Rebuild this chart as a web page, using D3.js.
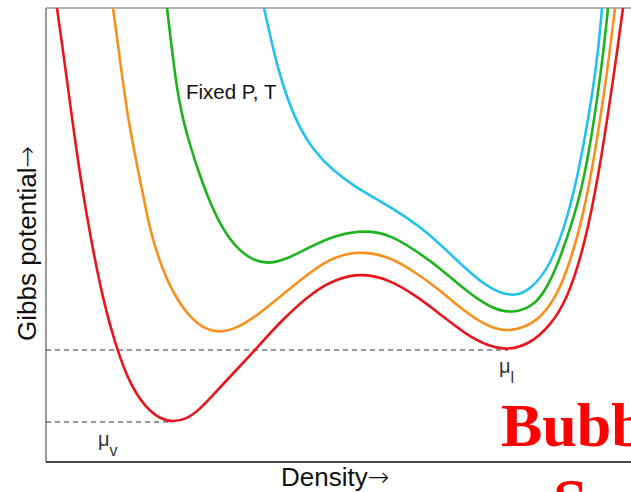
<!DOCTYPE html>
<html>
<head>
<meta charset="utf-8">
<script src="https://cdn.jsdelivr.net/npm/d3@7/dist/d3.min.js"></script>
<style>
  html, body { margin: 0; padding: 0; background: #fff; }
  svg { display: block; }
</style>
</head>
<body>
<script>
// ---- Data (density, Gibbs potential), arbitrary units ----
const redCurve = [
  [2.2,90.8],[3.6,80.8],[5.2,68.8],[7.0,56.0],[9.0,44.4],[11.4,32.4],[14.2,22.4],
  [16.8,15.6],[19.8,11.0],[22.8,8.6],[25.4,8.0],[28.2,8.6],[30.8,10.6],[33.4,13.4],
  [36.2,16.4],[39.0,19.4],[41.8,22.4],[46.8,28.0],[52.8,33.6],[57.8,36.6],[63.4,37.8],
  [68.8,36.4],[73.8,33.4],[78.8,29.6],[83.8,25.6],[88.8,23.0],[92.4,22.4],[96.8,23.6],
  [100.8,27.2],[104.2,32.4],[107.8,43.4],[110.8,59.0],[112.8,72.4],[113.8,79.0],[115.4,90.8]
];
const orangeCurve = [
  [13.4,90.8],[14.8,80.4],[16.4,68.4],[18.8,56.4],[20.4,48.4],[21.4,44.4],[23.2,38.8],
  [25.4,33.8],[28.8,28.8],[31.8,26.6],[34.8,25.8],[38.8,27.0],[42.8,29.8],[46.8,33.0],
  [52.8,38.0],[57.8,41.2],[63.4,42.2],[68.8,41.0],[73.8,38.0],[78.8,34.4],[83.8,30.0],
  [88.8,26.8],[93.0,26.0],[97.8,27.8],[100.8,31.2],[103.4,35.8],[106.8,46.4],[109.4,59.0],
  [112.4,79.0],[113.8,90.8]
];
const greenCurve = [
  [24.2,90.8],[25.2,82.4],[26.2,74.4],[27.4,68.4],[28.8,63.4],[30.4,58.4],[32.2,53.4],
  [34.2,48.8],[36.4,45.0],[38.8,42.2],[41.4,40.4],[44.2,39.6],[47.8,40.4],[52.8,43.0],
  [57.8,45.4],[64.2,46.4],[68.8,45.4],[73.8,42.4],[78.8,38.8],[83.8,34.4],[88.8,30.8],
  [93.4,29.6],[97.8,31.4],[100.0,34.6],[102.2,39.0],[105.8,49.4],[108.2,59.0],[111.2,79.0],
  [112.4,90.8]
];
const cyanCurve = [
  [43.6,90.8],[44.8,85.4],[46.2,79.4],[48.0,73.4],[50.4,67.4],[53.4,62.4],[57.4,58.2],
  [62.2,54.8],[66.8,52.2],[70.8,49.8],[76.2,46.0],[79.8,42.6],[83.8,38.8],[87.8,35.4],
  [90.8,33.8],[93.8,33.2],[96.8,34.4],[100.8,39.0],[104.2,48.4],[106.8,59.0],[110.2,79.0],
  [111.2,90.8]
];
const seriesNames = ["red", "orange", "green", "cyan"];
const seriesColors = ["#e8161c", "#f7901e", "#1db31d", "#23c1ef"];
const seriesData = [redCurve, orangeCurve, greenCurve, cyanCurve];

// chemical potential levels (liquid & vapour minima of the coexistence curve)
const levelLabels = ["μ", "μ"];
const levelSubs = ["l", "v"];
const levelX = [92.4, 25.4];
const levelY = [22.4, 8.0];

const xLabel = "Density";
const yLabel = "Gibbs potential";
const arrow = "→";
const annotation = "Fixed P, T";
const watermark = ["Bubb", "S"];

// ---- Layout ----
const W = 631, H = 492;
const mLeft = 46, mTop = 8, mRight = 631, mBottom = 462;

const x = d3.scaleLinear().domain([0, 117]).range([mLeft, mRight]);
const y = d3.scaleLinear().domain([0, 90.8]).range([mBottom, mTop]);

const svg = d3.select("body").append("svg")
  .attr("width", W).attr("height", H)
  .style("font-family", "'Liberation Sans', Arial, Helvetica, sans-serif");

svg.append("defs").append("clipPath").attr("id", "plot")
  .append("rect").attr("x", mLeft).attr("y", mTop)
  .attr("width", mRight - mLeft).attr("height", mBottom - mTop);

// frame
svg.append("line").attr("x1", mLeft).attr("x2", mRight).attr("y1", mTop).attr("y2", mTop)
  .attr("stroke", "#666").attr("stroke-width", 1.2);
svg.append("line").attr("x1", mLeft).attr("x2", mLeft).attr("y1", mTop).attr("y2", mBottom)
  .attr("stroke", "#777").attr("stroke-width", 1.5);
svg.append("line").attr("x1", mLeft).attr("x2", mRight).attr("y1", mBottom).attr("y2", mBottom)
  .attr("stroke", "#111").attr("stroke-width", 1.5);

// dashed levels
levelX.forEach((lx, i) => {
  svg.append("line")
    .attr("x1", x(0)).attr("x2", x(lx))
    .attr("y1", y(levelY[i])).attr("y2", y(levelY[i]))
    .attr("stroke", "#333").attr("stroke-width", 1)
    .attr("stroke-dasharray", "5,4");
});

// curves
const line = d3.line().x(d => x(d[0])).y(d => y(d[1])).curve(d3.curveBasis);
const g = svg.append("g").attr("clip-path", "url(#plot)");
seriesData.forEach((data, i) => {
  g.append("path").datum(data)
    .attr("class", "series-" + seriesNames[i])
    .attr("fill", "none")
    .attr("stroke", seriesColors[i])
    .attr("stroke-width", 2.6)
    .attr("stroke-linejoin", "round")
    .attr("d", line);
});

// level labels
const labOff = [[-9, 23], [-75, 24]];
levelX.forEach((lx, i) => {
  const t = svg.append("text")
    .attr("x", x(lx) + labOff[i][0]).attr("y", y(levelY[i]) + labOff[i][1])
    .attr("fill", "#333").attr("font-size", 20);
  t.append("tspan").text(levelLabels[i]);
  t.append("tspan").attr("font-size", 16).attr("dy", 10).text(levelSubs[i]);
});

// annotation
svg.append("text").attr("x", 186).attr("y", 99)
  .attr("font-size", 20.5).attr("fill", "#111").text(annotation);

// axis titles
const xt = svg.append("text").attr("x", 281).attr("y", 486)
  .attr("font-size", 26).attr("fill", "#111");
xt.append("tspan").text(xLabel);
xt.append("tspan").attr("font-family", "'DejaVu Sans', sans-serif")
  .attr("font-size", 26).attr("font-weight", 300).text(arrow);

const yt = svg.append("text")
  .attr("transform", "translate(36,341) rotate(-90)")
  .attr("font-size", 26).attr("fill", "#111");
yt.append("tspan").text(yLabel);
yt.append("tspan").attr("font-family", "'DejaVu Sans', sans-serif")
  .attr("font-size", 26).attr("font-weight", 300).text(arrow);

// watermark
svg.append("text").attr("x", 501).attr("y", 446)
  .attr("font-family", "'Liberation Serif', 'Times New Roman', serif")
  .attr("font-weight", "bold").attr("font-size", 62).attr("fill", "#ff0000")
  .text(watermark[0]);
svg.append("text").attr("x", 553).attr("y", 521)
  .attr("font-family", "'Liberation Serif', 'Times New Roman', serif")
  .attr("font-weight", "bold").attr("font-size", 62).attr("fill", "#ff0000")
  .text(watermark[1]);
</script>
</body>
</html>
